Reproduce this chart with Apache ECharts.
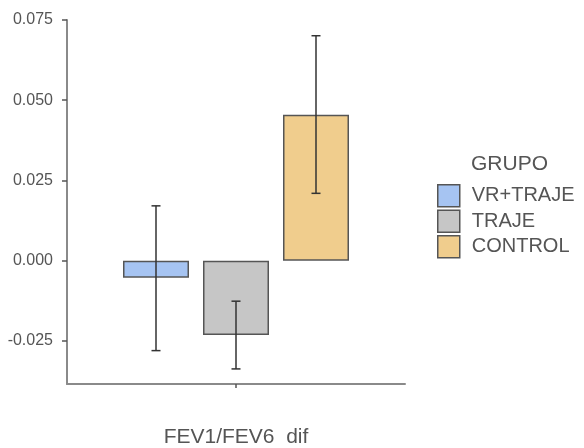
<!DOCTYPE html>
<html>
<head>
<meta charset="utf-8">
<script src="https://cdn.jsdelivr.net/npm/echarts@6/dist/echarts.min.js"></script>
<style>
  html, body { margin: 0; padding: 0; background: #ffffff; }
  #chart { width: 584px; height: 448px; }
</style>
</head>
<body>
<div id="chart"></div>
<script>
// Mean change in FEV1/FEV6 per group, with error bar limits
const category = ['FEV1/FEV6  dif'];
const groups = ['VR+TRAJE', 'TRAJE', 'CONTROL'];
const means = [-0.0053, -0.0231, 0.0455];
const lower = [-0.0280, -0.0337, 0.0210];
const upper = [0.0171, -0.0126, 0.0701];
const yTicks = [-0.025, 0.000, 0.025, 0.050, 0.075];
const yMin = -0.0384;
const yMax = 0.075;

const colors = ['#a6c4f2', '#c6c6c6', '#f0cd8d'];
const barWidth = 66;
const barGapPx = 14;
const font = '"Liberation Sans", Arial, sans-serif';

const chart = echarts.init(document.getElementById('chart'), null, { renderer: 'canvas' });

const barSeries = groups.map((g, i) => ({
  name: g,
  type: 'bar',
  data: [means[i]],
  barWidth: barWidth,
  barGap: (barGapPx / barWidth * 100) + '%',
  itemStyle: { color: colors[i], borderColor: '#555555', borderWidth: 1.5 },
  emphasis: { disabled: true }
}));

// Error bars drawn over the bars, offset to each group's bar centre
const errorSeries = {
  type: 'custom',
  name: 'err',
  z: 10,
  silent: true,
  data: groups.map((g, i) => [0, lower[i], upper[i], i]),
  renderItem: function (params, api) {
    const idx = api.value(3);
    const offset = (idx - (groups.length - 1) / 2) * (barWidth + barGapPx);
    const lo = api.coord([api.value(0), api.value(1)]);
    const hi = api.coord([api.value(0), api.value(2)]);
    const x = lo[0] + offset;
    const cap = 4.5;
    const style = { stroke: '#333333', lineWidth: 1.5 };
    return {
      type: 'group',
      children: [
        { type: 'line', shape: { x1: x, y1: lo[1], x2: x, y2: hi[1] }, style: style },
        { type: 'line', shape: { x1: x - cap, y1: lo[1], x2: x + cap, y2: lo[1] }, style: style },
        { type: 'line', shape: { x1: x - cap, y1: hi[1], x2: x + cap, y2: hi[1] }, style: style }
      ]
    };
  }
};

chart.setOption({
  animation: false,
  backgroundColor: '#ffffff',
  textStyle: { fontFamily: font },
  title: {
    text: 'GRUPO',
    left: 466,
    top: 149,
    textStyle: { fontFamily: font, fontSize: 21, fontWeight: 'normal', color: '#555555' }
  },
  legend: {
    data: groups,
    orient: 'vertical',
    left: 437,
    top: 184,
    padding: 0,
    itemWidth: 22,
    itemHeight: 22,
    itemGap: 2,
    icon: 'rect',
    selectedMode: false,
    itemStyle: { borderColor: '#555555', borderWidth: 1.5 },
    textStyle: { fontFamily: font, fontSize: 20, color: '#555555', padding: [0, 0, 0, 7] }
  },
  grid: { left: 67, right: 179, top: 20, bottom: 62, containLabel: false },
  xAxis: {
    type: 'category',
    data: category,
    axisLine: { show: true, onZero: false, lineStyle: { color: '#8a8a8a', width: 2 } },
    axisTick: { show: true, alignWithLabel: true, length: 4, lineStyle: { color: '#555555', width: 1.5 } },
    axisLabel: { margin: 43, fontSize: 21, color: '#555555', fontFamily: font },
    splitLine: { show: false }
  },
  yAxis: {
    type: 'value',
    min: yMin,
    max: yMax,
    axisLine: { show: true, lineStyle: { color: '#8a8a8a', width: 2 } },
    axisTick: { show: true, length: 5, customValues: yTicks, lineStyle: { color: '#555555', width: 1.5 } },
    axisLabel: {
      customValues: yTicks,
      fontSize: 16,
      color: '#555555',
      fontFamily: font,
      margin: 14,
      formatter: v => v.toFixed(3)
    },
    splitLine: { show: false }
  },
  series: barSeries.concat([errorSeries])
});
</script>
</body>
</html>
